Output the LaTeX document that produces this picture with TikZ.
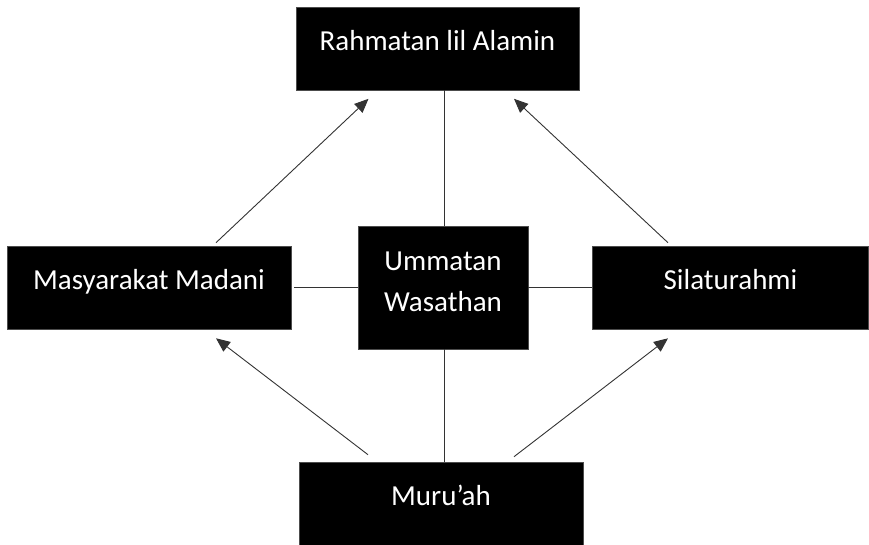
\documentclass[tikz,border=0pt]{standalone}
\usepackage{fontspec}
\setmainfont{Carlito}
\usetikzlibrary{arrows.meta}

\tikzset{
    box/.style={rectangle, fill=black, draw=black!70, line width=0.6pt, text=white,
        font=\fontsize{29}{41}\selectfont, align=center, inner sep=0pt,
        text height=18.7pt, text depth=15pt},
    link/.style={draw=black!80, line width=0.9pt},
    push/.style={link, -{Triangle[length=14pt, width=12pt]}}
}

\begin{document}
\begin{tikzpicture}[x=1pt, y=-1pt]
    \useasboundingbox (0,0) rectangle (869,544);

    %% Boxes
    \node[box, minimum width=283pt, minimum height=83pt] (rahmatan) at (437.5,48.5) {Rahmatan lil Alamin};
    \node[box, minimum width=284pt, minimum height=83pt] (masyarakat) at (149,287.5) {Masyarakat Madani};
    \node[box, minimum width=276pt, minimum height=83pt] (silaturahmi) at (730.5,287.5) {Silaturahmi};
    \node[box, minimum width=170pt, minimum height=123pt, text height=59.7pt, text depth=12.7pt] (wasathan) at (443,287.5) {Ummatan\\Wasathan};
    \node[box, minimum width=284pt, minimum height=83pt] (muruah) at (441,503.5) {Muru’ah};

    % Cross through the middle
    \draw[link] (rahmatan.south -| 444.3,0) -- (wasathan.north -| 444.3,0);
    \draw[link] (wasathan.south -| 444.3,0) -- (muruah.north -| 444.3,0);
    \draw[link, shorten <=3pt] (masyarakat.east) -- (wasathan.west);
    \draw[link] (wasathan.east) -- (silaturahmi.west);

    % Arrows upward
    \draw[push] ([xshift=67pt, yshift=3pt]masyarakat.north) -- ([xshift=-69pt, yshift=-8.5pt]rahmatan.south);
    \draw[push] ([xshift=-62.5pt, yshift=3pt]silaturahmi.north) -- ([xshift=76.5pt, yshift=-8.5pt]rahmatan.south);

    % Arrows from Muru'ah
    \draw[push] ([xshift=-73pt, yshift=7pt]muruah.north) -- ([xshift=67pt, yshift=-9pt]masyarakat.south);
    \draw[push] ([xshift=73pt, yshift=5pt]muruah.north) -- ([xshift=-62.5pt, yshift=-9pt]silaturahmi.south);

\end{tikzpicture}
\end{document}
